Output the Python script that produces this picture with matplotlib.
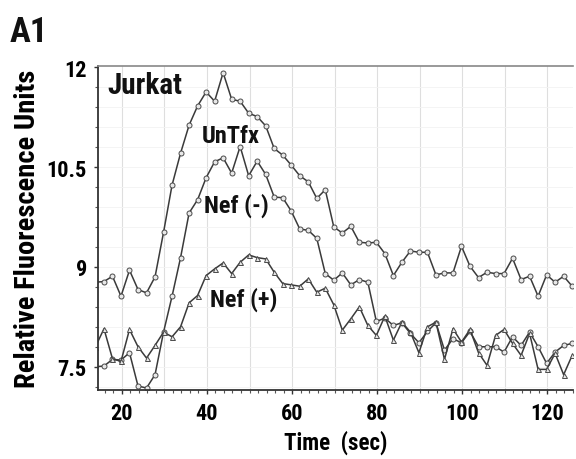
import numpy as np
import matplotlib
matplotlib.use("Agg")
import matplotlib.pyplot as plt
from matplotlib.ticker import MultipleLocator, FixedLocator

plt.rcParams['font.family'] = ['Roboto Condensed', 'Liberation Sans', 'DejaVu Sans']

# time axis (s), sampled every 2 s
time_s = [13.8 + 2 * k for k in range(57)]

untfx = [8.77, 8.78, 8.86, 8.56, 8.95, 8.66, 8.61, 8.85, 9.52, 10.23,
         10.71, 11.13, 11.42, 11.63, 11.49, 11.92, 11.52, 11.49, 11.31, 11.26,
         11.12, 10.78, 10.68, 10.53, 10.37, 10.28, 10.03, 10.16, 9.60, 9.51,
         9.61, 9.37, 9.36, 9.37, 9.20, 8.87, 9.07, 9.24, 9.22, 9.22,
         8.88, 8.91, 8.91, 9.31, 9.01, 8.84, 8.92, 8.90, 8.90, 9.13,
         8.81, 8.86, 8.56, 8.88, 8.77, 8.86, 8.71]

nef_minus = [7.50, 7.51, 7.61, 7.60, 7.71, 7.21, 7.18, 7.38, 8.02, 8.56,
             9.14, 9.81, 10.01, 10.34, 10.58, 10.64, 10.41, 10.81, 10.37, 10.59,
             10.39, 10.05, 10.04, 9.84, 9.57, 9.55, 9.43, 8.90, 8.80, 8.91,
             8.73, 8.81, 8.77, 8.18, 8.23, 8.12, 8.16, 8.00, 7.86, 8.03,
             8.16, 7.75, 7.92, 7.86, 8.03, 7.80, 7.80, 7.80, 7.72, 7.95,
             7.82, 8.02, 7.80, 7.55, 7.72, 7.82, 7.85]

nef_plus = [7.80, 8.07, 7.62, 7.58, 8.06, 7.80, 7.63, 7.82, 8.02, 7.95,
            8.10, 8.46, 8.57, 8.87, 8.97, 9.06, 8.90, 9.07, 9.18, 9.14,
            9.12, 8.92, 8.75, 8.73, 8.71, 8.82, 8.62, 8.68, 8.43, 8.05,
            8.22, 8.40, 8.12, 7.97, 8.26, 7.90, 8.17, 8.02, 7.71, 8.10,
            8.17, 7.61, 8.07, 7.87, 8.06, 7.71, 7.52, 7.97, 8.06, 7.85,
            7.67, 8.00, 7.46, 7.46, 7.70, 7.38, 7.67]

x_ticks = [20, 40, 60, 80, 100, 120]
y_ticks = [7.5, 9, 10.5, 12]
y_tick_labels = ["7.5", "9", "10.5", "12"]

fig = plt.figure(figsize=(5.76, 4.60), dpi=100)
ax = fig.add_axes([98/576, 1 - 391/460, 475/576, 324/460])

line_col = '#3a3a3a'
mk = dict(markersize=3.6, markerfacecolor='#e8e8e8', markeredgecolor='#4a4a4a',
          markeredgewidth=0.7, color=line_col, linewidth=1.1, clip_on=True)
ax.plot(time_s, untfx, marker='o', **mk)
ax.plot(time_s, nef_minus, marker='o', **mk)
ax.plot(time_s, nef_plus, marker='^', **mk)

ax.set_xlim(14.4, 126.0)
ax.set_ylim(7.15, 12.02)

ax.xaxis.set_major_locator(FixedLocator(x_ticks))
ax.xaxis.set_minor_locator(MultipleLocator(2))
ax.yaxis.set_major_locator(FixedLocator(y_ticks))
ax.set_yticklabels(y_tick_labels)
ax.yaxis.set_minor_locator(MultipleLocator(0.3))

# grid
for gx in range(20, 130, 10):
    ax.axvline(gx, color='#dedede', linewidth=0.8, zorder=0)
for gy in np.arange(7.2, 12.0, 0.3):
    ax.axhline(gy, color='#f3f3f3', linewidth=0.6, zorder=0)

ax.tick_params(axis='both', which='major', labelsize=16, length=3, width=1,
               color='#333333', direction='out')
ax.tick_params(axis='both', which='minor', length=2, width=0.8, color='#555555',
               direction='out')
ax.tick_params(axis='x', pad=6)
ax.tick_params(axis='y', pad=5)
for lab in ax.get_xticklabels() + ax.get_yticklabels():
    lab.set_fontweight('bold')

ax.spines['left'].set_color('#333333')
ax.spines['left'].set_linewidth(1.3)
ax.spines['bottom'].set_color('#333333')
ax.spines['bottom'].set_linewidth(1.3)
ax.spines['top'].set_color('#888888')
ax.spines['top'].set_linewidth(1.2)
ax.spines['right'].set_visible(False)

ax.set_ylabel("Relative Fluorescence Units", fontsize=20.5, fontweight='bold',
              labelpad=4)
ax.set_xlabel("Time  (sec)", fontsize=16.5, fontweight='bold', labelpad=4)

ax.text(16.6, 11.74, "Jurkat", fontsize=21, fontweight='bold', ha='left',
        va='center', color='#111111')
ax.text(45.6, 10.98, "UnTfx", fontsize=17.5, fontweight='bold', ha='center',
        va='center', color='#111111')
ax.text(47.0, 9.93, "Nef (-)", fontsize=17.5, fontweight='bold', ha='center',
        va='center', color='#111111')
ax.text(48.6, 8.52, "Nef (+)", fontsize=17.5, fontweight='bold', ha='center',
        va='center', color='#111111')

fig.text(10/576, 1 - 33/460, "A1", fontsize=25, fontweight='bold',
         ha='left', va='center', color='#111111')

fig.savefig("out.png", dpi=100)
